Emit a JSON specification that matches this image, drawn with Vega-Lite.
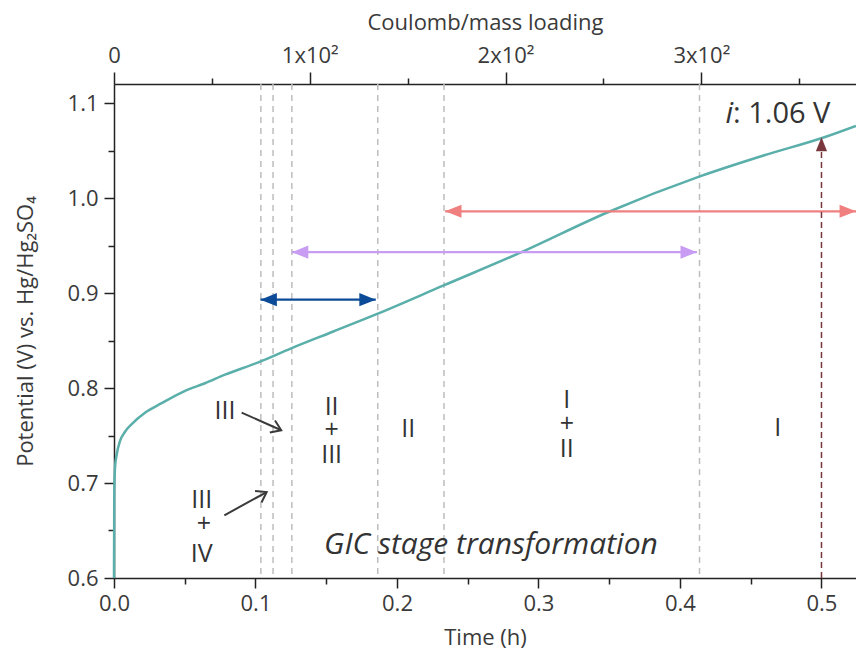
{
  "$schema": "https://vega.github.io/schema/vega-lite/v6.json",
  "width": 742,
  "height": 494,
  "autosize": {"type": "none"},
  "padding": {"left": 114, "top": 84, "right": 0, "bottom": 78},
  "config": {
    "view": {"stroke": null},
    "font": "Open Sans",
    "axis": {
      "grid": false,
      "domainColor": "#222222",
      "domainWidth": 1.5,
      "tickColor": "#222222",
      "tickWidth": 1.5,
      "labelFont": "Open Sans",
      "labelFontWeight": "normal",
      "labelFontSize": 22,
      "labelColor": "#3a3a3a",
      "labelFlush": false,
      "titleFont": "Open Sans",
      "titleFontWeight": "normal",
      "titleFontSize": 22,
      "titleColor": "#3a3a3a"
    },
    "text": {"font": "Open Sans", "fontWeight": "normal", "color": "#333333"}
  },
  "datasets": {
    "curve": [
      {"t": 0, "v": 0.6},
      {"t": 0.0002, "v": 0.69},
      {"t": 0.0007, "v": 0.716},
      {"t": 0.0019, "v": 0.73},
      {"t": 0.0042, "v": 0.744},
      {"t": 0.0078, "v": 0.754},
      {"t": 0.0125, "v": 0.762},
      {"t": 0.0219, "v": 0.774},
      {"t": 0.0337, "v": 0.784},
      {"t": 0.0502, "v": 0.797},
      {"t": 0.0643, "v": 0.805},
      {"t": 0.0784, "v": 0.814},
      {"t": 0.102, "v": 0.827},
      {"t": 0.1256, "v": 0.842},
      {"t": 0.155, "v": 0.8595},
      {"t": 0.186, "v": 0.878},
      {"t": 0.233, "v": 0.908},
      {"t": 0.288, "v": 0.943},
      {"t": 0.349, "v": 0.985},
      {"t": 0.4145, "v": 1.023},
      {"t": 0.4596, "v": 1.045},
      {"t": 0.502, "v": 1.064},
      {"t": 0.5244, "v": 1.076}
    ],
    "stages": [
      {"t": 0.1038}, {"t": 0.1124}, {"t": 0.1257}, {"t": 0.1864}, {"t": 0.2332}, {"t": 0.4138}
    ],
    "spans": [
      {"arrow": "blue", "t1": 0.1035, "t2": 0.185, "v": 0.893},
      {"arrow": "purple", "t1": 0.1257, "t2": 0.412, "v": 0.943},
      {"arrow": "red", "t1": 0.234, "t2": 0.5244, "v": 0.986}
    ],
    "heads": [
      {"arrow": "blue", "dir": "left", "t": 0.1035, "v": 0.893},
      {"arrow": "blue", "dir": "right", "t": 0.185, "v": 0.893},
      {"arrow": "purple", "dir": "left", "t": 0.1257, "v": 0.943},
      {"arrow": "purple", "dir": "right", "t": 0.412, "v": 0.943},
      {"arrow": "red", "dir": "left", "t": 0.234, "v": 0.986},
      {"arrow": "red", "dir": "right", "t": 0.5244, "v": 0.986}
    ],
    "labels": [
      {"text": "III", "t": 0.0784, "v": 0.7758},
      {"text": "III", "t": 0.062, "v": 0.6818},
      {"text": "+", "t": 0.0635, "v": 0.6565},
      {"text": "IV", "t": 0.062, "v": 0.6257},
      {"text": "II", "t": 0.1538, "v": 0.7805},
      {"text": "+", "t": 0.1538, "v": 0.7555},
      {"text": "III", "t": 0.1538, "v": 0.7295},
      {"text": "II", "t": 0.208, "v": 0.7573},
      {"text": "I", "t": 0.32, "v": 0.7875},
      {"text": "+", "t": 0.32, "v": 0.762},
      {"text": "II", "t": 0.32, "v": 0.736},
      {"text": "I", "t": 0.469, "v": 0.7576}
    ]
  },
  "resolve": {"scale": {"x": "independent"}},
  "layer": [
    {
      "layer": [
        {
          "data": {"name": "stages"},
          "mark": {"type": "rule", "color": "#bdbdbd", "strokeWidth": 1.5, "strokeDash": [6, 5]},
          "encoding": {
            "x": {"field": "t", "type": "quantitative", "scale": {"domain": [0, 0.5244]}}
          }
        },
        {
          "data": {"name": "curve"},
          "mark": {"type": "line", "color": "#5aafaa", "strokeWidth": 2.5, "interpolate": "monotone"},
          "encoding": {
            "x": {
              "field": "t", "type": "quantitative",
              "scale": {"domain": [0, 0.5244], "nice": false, "zero": false},
              "axis": {
                "orient": "bottom",
                "values": [0, 0.05, 0.1, 0.15, 0.2, 0.25, 0.3, 0.35, 0.4, 0.45, 0.5],
                "labelExpr": "abs(round(datum.value*10) - datum.value*10) < 0.01 ? format(datum.value, '.1f') : ''",
                "tickSize": {"condition": {"test": "abs(round(datum.value*10) - datum.value*10) < 0.01", "value": 10}, "value": 6},
                "labelPadding": 5,
                "title": "Time (h)",
                "titlePadding": 13
              }
            },
            "y": {
              "field": "v", "type": "quantitative",
              "scale": {"domain": [0.6, 1.12], "nice": false, "zero": false},
              "axis": {
                "values": [0.6, 0.65, 0.7, 0.75, 0.8, 0.85, 0.9, 0.95, 1.0, 1.05, 1.1],
                "labelExpr": "abs(round(datum.value*10) - datum.value*10) < 0.01 ? format(datum.value, '.1f') : ''",
                "tickSize": {"condition": {"test": "abs(round(datum.value*10) - datum.value*10) < 0.01", "value": 10}, "value": 6},
                "labelPadding": 6,
                "title": "Potential (V) vs. Hg/Hg₂SO₄",
                "titlePadding": 30
              }
            }
          }
        },
        {
          "data": {"name": "spans"},
          "mark": {"type": "rule", "strokeWidth": 2.2},
          "encoding": {
            "x": {"field": "t1", "type": "quantitative", "scale": {"domain": [0, 0.5244]}},
            "x2": {"field": "t2"},
            "y": {"field": "v", "type": "quantitative", "scale": {"domain": [0.6, 1.12]}},
            "color": {"field": "arrow", "type": "nominal", "scale": {"domain": ["blue", "purple", "red", "i"], "range": ["#0b4b97", "#c89cf3", "#f07f80", "#77373c"]}, "legend": null}
          }
        },
        {
          "data": {"name": "heads"},
          "mark": {"type": "point", "filled": true, "opacity": 1, "size": 270},
          "encoding": {
            "x": {"field": "t", "type": "quantitative", "scale": {"domain": [0, 0.5244]}},
            "y": {"field": "v", "type": "quantitative", "scale": {"domain": [0.6, 1.12]}},
            "shape": {"field": "dir", "type": "nominal", "scale": {"domain": ["left", "right", "up"], "range": ["M0,0L2,-0.8L2,0.8Z", "M0,0L-2,-0.8L-2,0.8Z", "M0,0L-0.8,2L0.8,2Z"]}, "legend": null},
            "color": {"field": "arrow", "type": "nominal", "legend": null}
          }
        },
        {
          "data": {"values": [{"arrow": "i", "t": 0.5, "v1": 0.6, "v2": 1.05}]},
          "mark": {"type": "rule", "strokeWidth": 1.5, "strokeDash": [6, 4]},
          "encoding": {
            "x": {"field": "t", "type": "quantitative", "scale": {"domain": [0, 0.5244]}},
            "y": {"field": "v1", "type": "quantitative", "scale": {"domain": [0.6, 1.12]}},
            "y2": {"field": "v2"},
            "color": {"field": "arrow", "type": "nominal", "legend": null}
          }
        },
        {
          "data": {"values": [{"arrow": "i", "dir": "up", "t": 0.5, "v": 1.064}]},
          "mark": {"type": "point", "filled": true, "opacity": 1, "size": 196},
          "encoding": {
            "x": {"field": "t", "type": "quantitative", "scale": {"domain": [0, 0.5244]}},
            "y": {"field": "v", "type": "quantitative", "scale": {"domain": [0.6, 1.12]}},
            "shape": {"field": "dir", "type": "nominal", "legend": null},
            "color": {"field": "arrow", "type": "nominal", "legend": null}
          }
        },
        {
          "data": {"values": [{"t1": 0.0902, "v1": 0.7741, "t2": 0.1182, "v2": 0.7555}, {"t1": 0.078, "v1": 0.666, "t2": 0.1079, "v2": 0.6905}]},
          "mark": {"type": "rule", "color": "#3a3a3a", "strokeWidth": 2},
          "encoding": {
            "x": {"field": "t1", "type": "quantitative", "scale": {"domain": [0, 0.5244]}},
            "x2": {"field": "t2"},
            "y": {"field": "v1", "type": "quantitative", "scale": {"domain": [0.6, 1.12]}},
            "y2": {"field": "v2"}
          }
        },
        {
          "data": {"values": [{"t": 0.1182, "v": 0.7555}]},
          "mark": {"type": "point", "shape": "M-1.6,-1.1L0,0L-1.6,1.1", "filled": false, "color": "#3a3a3a", "strokeWidth": 2, "size": 144, "angle": 23, "opacity": 1},
          "encoding": {
            "x": {"field": "t", "type": "quantitative", "scale": {"domain": [0, 0.5244]}},
            "y": {"field": "v", "type": "quantitative", "scale": {"domain": [0.6, 1.12]}}
          }
        },
        {
          "data": {"values": [{"t": 0.1079, "v": 0.6905}]},
          "mark": {"type": "point", "shape": "M-1.6,-1.1L0,0L-1.6,1.1", "filled": false, "color": "#3a3a3a", "strokeWidth": 2, "size": 144, "angle": -29, "opacity": 1},
          "encoding": {
            "x": {"field": "t", "type": "quantitative", "scale": {"domain": [0, 0.5244]}},
            "y": {"field": "v", "type": "quantitative", "scale": {"domain": [0.6, 1.12]}}
          }
        },
        {
          "data": {"name": "labels"},
          "mark": {"type": "text", "fontSize": 25, "align": "center", "baseline": "middle"},
          "encoding": {
            "x": {"field": "t", "type": "quantitative", "scale": {"domain": [0, 0.5244]}},
            "y": {"field": "v", "type": "quantitative", "scale": {"domain": [0.6, 1.12]}},
            "text": {"field": "text"}
          }
        },
        {
          "data": {"values": [{"text": "GIC stage transformation", "t": 0.2664, "v": 0.6345}]},
          "mark": {"type": "text", "fontSize": 30, "fontStyle": "italic", "align": "center", "baseline": "middle"},
          "encoding": {
            "x": {"field": "t", "type": "quantitative", "scale": {"domain": [0, 0.5244]}},
            "y": {"field": "v", "type": "quantitative", "scale": {"domain": [0.6, 1.12]}},
            "text": {"field": "text"}
          }
        },
        {
          "data": {"values": [{"text": "i", "t": 0.4375, "v": 1.088}]},
          "mark": {"type": "text", "fontSize": 30, "fontStyle": "italic", "align": "right", "baseline": "middle"},
          "encoding": {
            "x": {"field": "t", "type": "quantitative", "scale": {"domain": [0, 0.5244]}},
            "y": {"field": "v", "type": "quantitative", "scale": {"domain": [0.6, 1.12]}},
            "text": {"field": "text"}
          }
        },
        {
          "data": {"values": [{"text": ": 1.06 V", "t": 0.4375, "v": 1.088}]},
          "mark": {"type": "text", "fontSize": 29, "align": "left", "baseline": "middle"},
          "encoding": {
            "x": {"field": "t", "type": "quantitative", "scale": {"domain": [0, 0.5244]}},
            "y": {"field": "v", "type": "quantitative", "scale": {"domain": [0.6, 1.12]}},
            "text": {"field": "text"}
          }
        }
      ]
    },
    {
      "data": {"values": [{"c": 0}, {"c": 379}]},
      "mark": {"type": "point", "opacity": 0},
      "encoding": {
        "x": {
          "field": "c", "type": "quantitative",
          "scale": {"domain": [0, 379], "nice": false, "zero": false},
          "axis": {
            "orient": "top",
            "values": [0, 50, 100, 150, 200, 250, 300, 350],
            "labelExpr": "datum.value % 100 == 0 ? (datum.value == 0 ? '0' : (datum.value / 100) + 'x10²') : ''",
            "tickSize": {"condition": {"test": "datum.value % 100 == 0", "value": 12}, "value": 6},
            "labelPadding": 5,
            "title": "Coulomb/mass loading",
            "titlePadding": 10
          }
        }
      }
    }
  ]
}
